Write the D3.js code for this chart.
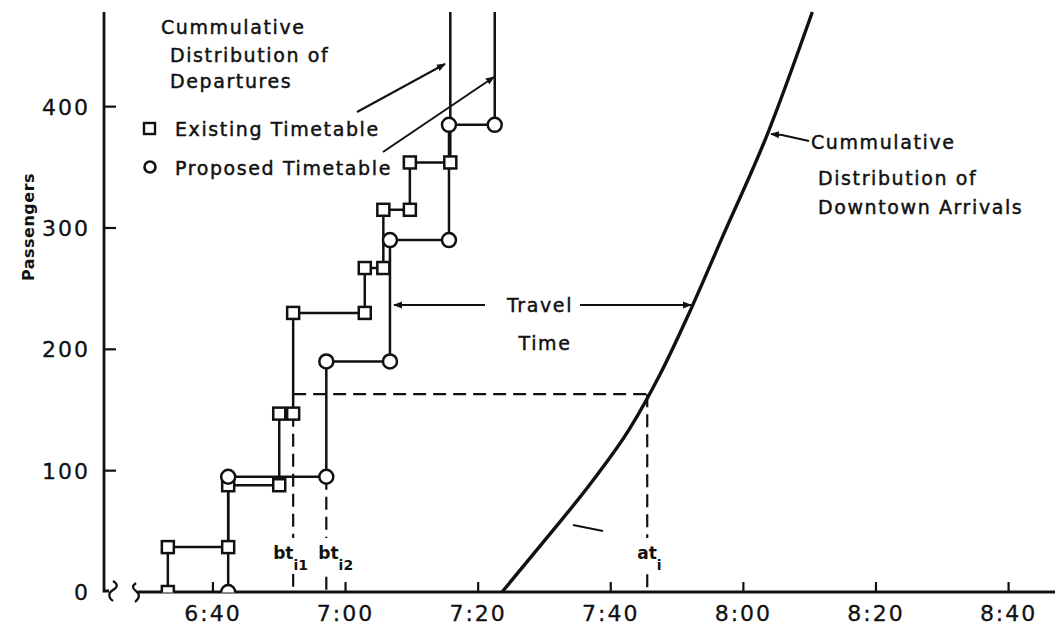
<!DOCTYPE html>
<html>
<head>
  <meta charset="utf-8">
  <script src="https://d3js.org/d3.v7.min.js"></script>
  <style>
    body { margin: 0; background: white; }
    svg { display: block; }
    text { font-family: "DejaVu Sans", sans-serif; fill: #111; }
    .lbl { font-size: 19px; letter-spacing: 1.6px; stroke: #111; stroke-width: 0.45px; }
    .tick { font-size: 22px; letter-spacing: 2px; stroke: #111; stroke-width: 0.3px; }
  </style>
</head>
<body>
<script>
// times are minutes after 6:00
var existingTimes = [33.2, 42.3, 50.0, 52.1, 62.9, 65.7, 69.7, 75.8];
var existingCounts = [0, 37, 88, 147, 230, 267, 315, 354, 478];
var proposedTimes = [42.3, 57.1, 66.7, 75.6, 82.5];
var proposedCounts = [0, 95, 190, 290, 385, 478];
var arrivalTimes = [83.6, 90.1, 96.9, 102.9, 107.4, 112.0, 116.8, 123.6, 130.4];
var arrivalCounts = [0, 43, 89, 135, 179, 232, 292, 377, 478];
var xTicks = [40, 60, 80, 100, 120, 140, 160];
var yTicks = [0, 100, 200, 300, 400];
var btI1 = 52.1, btI2 = 57.1, atI = 105.5, transferCount = 163;

var W = 1059, H = 630;
var x = d3.scaleLinear().domain([29, 167]).range([140, 1055]);
var y = d3.scaleLinear().domain([0, 478]).range([592, 12]);

var svg = d3.select("body").append("svg").attr("width", W).attr("height", H);

var defs = svg.append("defs");
defs.append("marker").attr("id", "arr")
    .attr("viewBox", "0 0 10 10").attr("refX", 9).attr("refY", 5)
    .attr("markerWidth", 9).attr("markerHeight", 9).attr("orient", "auto")
    .attr("markerUnits", "userSpaceOnUse")
  .append("path").attr("d", "M0,1 L10,5 L0,9 Z").attr("fill", "#111");

var clip = defs.append("clipPath").attr("id", "plot");
clip.append("rect").attr("x", 104).attr("y", 10).attr("width", 960).attr("height", 582.5);

// axes
svg.append("path")
    .attr("d", "M104,12 V591 H109")
    .attr("fill", "none").attr("stroke", "#111").attr("stroke-width", 2.8);
svg.append("path")
    .attr("d", "M113,581 c5,3 5,6 0,9 c-5,3 -5,7 0,11")
    .attr("fill", "none").attr("stroke", "#111").attr("stroke-width", 2.2);
svg.append("path")
    .attr("d", "M136,583 c-4,3 -4,5 0,8 c4,3 4,7 -1,11")
    .attr("fill", "none").attr("stroke", "#111").attr("stroke-width", 2.2);
svg.append("line")
    .attr("x1", 138).attr("x2", 1055).attr("y1", y(0)).attr("y2", y(0))
    .attr("stroke", "#111").attr("stroke-width", 2.8);

svg.append("g").selectAll("line").data(yTicks.filter(function(d){return d > 0;})).enter()
  .append("line")
    .attr("x1", 104).attr("x2", 116)
    .attr("y1", function(d){return y(d);}).attr("y2", function(d){return y(d);})
    .attr("stroke", "#111").attr("stroke-width", 2.2);
svg.append("g").selectAll("text").data(yTicks).enter()
  .append("text").attr("class", "tick")
    .attr("x", 90).attr("y", function(d){return y(d) + 8;})
    .attr("text-anchor", "end")
    .text(function(d){return d;});

svg.append("g").selectAll("line").data(xTicks).enter()
  .append("line")
    .attr("x1", function(d){return x(d);}).attr("x2", function(d){return x(d);})
    .attr("y1", y(0)).attr("y2", y(0) - 10)
    .attr("stroke", "#111").attr("stroke-width", 2.2);
svg.append("g").selectAll("text").data(xTicks).enter()
  .append("text").attr("class", "tick")
    .attr("x", function(d){return x(d);}).attr("y", 621)
    .attr("text-anchor", "middle")
    .text(function(d){
        var h = 6 + Math.floor(d / 60), m = d % 60;
        return h + ":" + (m < 10 ? "0" : "") + m;
    });

svg.append("text")
    .attr("transform", "translate(34,227) rotate(-90)")
    .attr("text-anchor", "middle")
    .style("font-size", "16px").style("font-weight", "bold").style("letter-spacing", "0.5px")
    .text("Passengers");

// dashed helper lines
var dash = svg.append("g").attr("stroke", "#111").attr("stroke-width", 2.2)
    .attr("stroke-dasharray", "13,7").attr("fill", "none");
dash.append("line").attr("x1", x(btI1)).attr("x2", x(atI))
    .attr("y1", y(transferCount)).attr("y2", y(transferCount));
dash.append("path").attr("d", "M" + x(btI1) + "," + y(147) + " V" + y(0));
dash.append("path").attr("d", "M" + x(btI2) + "," + y(95) + " V" + y(0));
dash.append("path").attr("d", "M" + x(atI) + "," + y(transferCount) + " V" + y(0));

// step curves
function stepPath(times, counts) {
    var pts = [];
    for (var i = 0; i < times.length; i++) {
        pts.push([times[i], counts[i]]);
        pts.push([times[i], counts[i + 1]]);
    }
    return pts;
}
var line = d3.line().x(function(d){return x(d[0]);}).y(function(d){return y(d[1]);});
var plot = svg.append("g").attr("clip-path", "url(#plot)");

plot.append("path").datum(stepPath(existingTimes, existingCounts))
    .attr("d", line).attr("fill", "none").attr("stroke", "#111").attr("stroke-width", 2.5);
plot.append("path").datum(stepPath(proposedTimes, proposedCounts))
    .attr("d", line).attr("fill", "none").attr("stroke", "#111").attr("stroke-width", 2.5);

function markerPts(times, counts) {
    var pts = [];
    for (var i = 0; i < times.length; i++) {
        pts.push([times[i], counts[i]]);
        if (i < times.length - 1) pts.push([times[i], counts[i + 1]]);
    }
    return pts;
}
plot.append("g").selectAll("rect").data(markerPts(existingTimes, existingCounts)).enter()
  .append("rect")
    .attr("x", function(d){return x(d[0]) - 6;}).attr("y", function(d){return y(d[1]) - 6;})
    .attr("width", 12).attr("height", 12)
    .attr("fill", "white").attr("stroke", "#111").attr("stroke-width", 2.5);
plot.append("g").selectAll("circle").data(markerPts(proposedTimes, proposedCounts)).enter()
  .append("circle")
    .attr("cx", function(d){return x(d[0]);}).attr("cy", function(d){return y(d[1]);})
    .attr("r", 7)
    .attr("fill", "white").attr("stroke", "#111").attr("stroke-width", 2.5);

// arrivals curve
plot.append("path")
    .datum(arrivalTimes.map(function(t, i){return [t, arrivalCounts[i]];}))
    .attr("d", d3.line().x(function(d){return x(d[0]);}).y(function(d){return y(d[1]);})
        .curve(d3.curveMonotoneX))
    .attr("fill", "none").attr("stroke", "#111").attr("stroke-width", 3.4);

// stray mark near curve
svg.append("line").attr("x1", 573).attr("y1", 525).attr("x2", 603).attr("y2", 531)
    .attr("stroke", "#111").attr("stroke-width", 2);

// labels
var ttl = svg.append("text").attr("class", "lbl");
ttl.append("tspan").attr("x", 161).attr("y", 34).text("Cummulative");
ttl.append("tspan").attr("x", 170).attr("y", 62).text("Distribution of");
ttl.append("tspan").attr("x", 170).attr("y", 88).text("Departures");

svg.append("rect").attr("x", 144).attr("y", 123).attr("width", 11).attr("height", 11)
    .attr("fill", "white").attr("stroke", "#111").attr("stroke-width", 2.4);
svg.append("text").attr("class", "lbl").attr("x", 175).attr("y", 136).text("Existing Timetable");
svg.append("circle").attr("cx", 150).attr("cy", 167).attr("r", 5.5)
    .attr("fill", "white").attr("stroke", "#111").attr("stroke-width", 2.6);
svg.append("text").attr("class", "lbl").attr("x", 175).attr("y", 175).text("Proposed Timetable");

svg.append("line").attr("x1", 357).attr("y1", 112).attr("x2", 445).attr("y2", 64)
    .attr("stroke", "#111").attr("stroke-width", 2).attr("marker-end", "url(#arr)");
svg.append("line").attr("x1", 383).attr("y1", 152).attr("x2", 494).attr("y2", 77)
    .attr("stroke", "#111").attr("stroke-width", 2).attr("marker-end", "url(#arr)");

var arrLbl = svg.append("text").attr("class", "lbl");
arrLbl.append("tspan").attr("x", 811).attr("y", 149).text("Cummulative");
arrLbl.append("tspan").attr("x", 818).attr("y", 185).text("Distribution of");
arrLbl.append("tspan").attr("x", 818).attr("y", 214).text("Downtown Arrivals");
svg.append("path").attr("d", "M809,141 L782,135 L771,134")
    .attr("fill", "none").attr("stroke", "#111").attr("stroke-width", 2.2)
    .attr("marker-end", "url(#arr)");

// travel time
svg.append("line").attr("x1", 485).attr("y1", 305).attr("x2", 394).attr("y2", 305)
    .attr("stroke", "#111").attr("stroke-width", 2).attr("marker-end", "url(#arr)");
svg.append("line").attr("x1", 580).attr("y1", 305).attr("x2", 691).attr("y2", 305)
    .attr("stroke", "#111").attr("stroke-width", 2).attr("marker-end", "url(#arr)");
svg.append("text").attr("class", "lbl").attr("x", 540).attr("y", 312)
    .attr("text-anchor", "middle").text("Travel");
svg.append("text").attr("class", "lbl").attr("x", 545).attr("y", 350)
    .attr("text-anchor", "middle").text("Time");

// subscript labels with white backing to break the dashed lines
function subLabel(cx, main, sub) {
    var g = svg.append("g");
    g.append("rect").attr("x", cx - 16).attr("y", 538).attr("width", 34).attr("height", 36).attr("fill", "white");
    var t = g.append("text").attr("x", cx - 14).attr("y", 559).style("font-size", "17px").style("font-weight", "bold");
    t.append("tspan").text(main);
    t.append("tspan").attr("dy", 11).style("font-size", "14px").text(sub);
}
subLabel(x(btI1) - 6, "bt", "i1");
subLabel(x(btI2) + 6, "bt", "i2");
subLabel(x(atI) + 4, "at", "i");
</script>
</body>
</html>
